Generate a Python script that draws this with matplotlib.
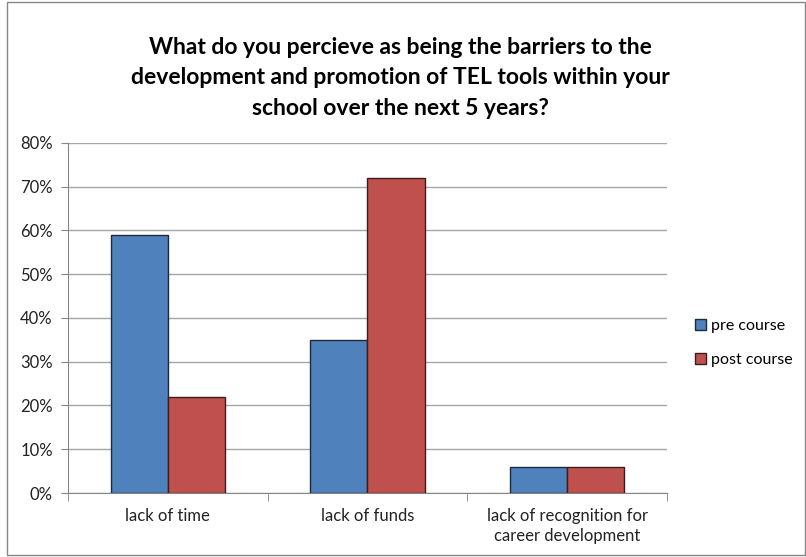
import numpy as np
import matplotlib.pyplot as plt
from matplotlib.patches import Rectangle, Patch
from matplotlib.ticker import PercentFormatter, FixedLocator

plt.rcParams['font.family'] = ['Lato', 'DejaVu Sans']

categories = ['lack of time', 'lack of funds', 'lack of recognition for\ncareer development']
pre_course = [0.59, 0.35, 0.06]
post_course = [0.22, 0.72, 0.06]
series_names = ['pre course', 'post course']
colors = ['#4F81BD', '#C0504D']
edges = ['#1F2A3A', '#3A1E1E']

fig = plt.figure(figsize=(8.06, 5.57), dpi=100)
ax = fig.add_axes([0.0844, 0.1149, 0.7431, 0.6284])

# Excel style gap width 150% -> bar width 1/3.5
x = np.arange(len(categories))
w = 1 / 3.5
ax.bar(x - w / 2, pre_course, w, color=colors[0], edgecolor=edges[0], linewidth=1, zorder=3)
ax.bar(x + w / 2, post_course, w, color=colors[1], edgecolor=edges[1], linewidth=1, zorder=3)

ax.set_xlim(-0.5, len(categories) - 0.5)
ax.set_ylim(0, 0.8)
ax.set_yticks(np.arange(0, 0.81, 0.1))
ax.yaxis.set_major_formatter(PercentFormatter(1.0, decimals=0))
ax.grid(axis='y', color='#A6A6A6', linewidth=1, zorder=0)

ax.set_xticks(x)
ax.set_xticklabels(categories, fontsize=12, color='#222222', linespacing=1.25)
ax.tick_params(axis='x', length=0, pad=11)
ax.xaxis.set_minor_locator(FixedLocator(np.arange(-0.5, len(categories), 1.0)))
ax.tick_params(axis='x', which='minor', length=6, color='#868686', direction='out')
ax.tick_params(axis='y', length=5, color='#868686', labelsize=12, labelcolor='#222222', pad=6)

for side in ['top', 'right']:
    ax.spines[side].set_visible(False)
for side in ['left', 'bottom']:
    ax.spines[side].set_color('#868686')

fig.text(0.497, 0.86, 'What do you percieve as being the barriers to the\n'
         'development and promotion of TEL tools within your\n'
         'school over the next 5 years?',
         ha='center', va='center', fontsize=16.5, fontweight='bold', linespacing=1.58)

handles = [Patch(facecolor=colors[i], edgecolor=edges[i], label=series_names[i]) for i in range(2)]
fig.legend(handles=handles, loc='center left', bbox_to_anchor=(0.845, 0.384), frameon=False,
           fontsize=11.5, handlelength=0.65, handleheight=0.65, handletextpad=0.3, labelspacing=1.25)

fig.patches.append(Rectangle((0.009, 0.003), 0.99, 0.994, transform=fig.transFigure,
                             fill=False, edgecolor='#868686', linewidth=1))

fig.savefig('out.png', dpi=100)
